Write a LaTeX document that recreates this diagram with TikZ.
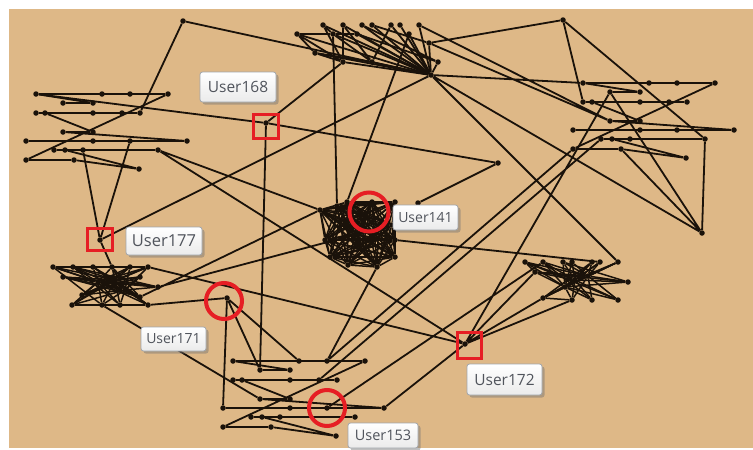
\documentclass[tikz,border=0pt]{standalone}
\usepackage{fontspec}
\setmainfont{Open Sans}
\usetikzlibrary{shadows}
\definecolor{paper}{RGB}{222,184,135}
\definecolor{ink}{RGB}{26,18,10}
\definecolor{mark}{RGB}{230,30,36}
\definecolor{tagtext}{RGB}{80,84,92}
\definecolor{tagedge}{RGB}{160,165,172}

\tikzset{
  dot/.style={circle, fill=ink, inner sep=0pt, minimum size=5.5pt},
  link/.style={draw=ink, line width=1.8pt},
  thin link/.style={draw=ink, line width=1.5pt},
  redbox/.style={draw=mark, line width=3pt, inner sep=0pt},
  redring/.style={draw=mark, line width=4pt, circle, inner sep=0pt},
  tag/.style={draw=tagedge, line width=0.8pt, rounded corners=2.5pt,
    top color=white, bottom color=black!8, text=tagtext, inner sep=0pt,
    drop shadow={shadow xshift=2.5pt, shadow yshift=-2.5pt, opacity=0.45, fill=black!55}},
  % a ladder of user rows joined by long horizontal threads
  ladder/.pic={
    \foreach \n/\x/\y in {a1/36/94, a2/102/94, a3/130/94, a4/168/94,
        b1/63/103, b2/93/103,
        c1/36/113, c2/45/113, c3/93/113, c4/122/113, c5/140/113,
        d1/63/132, d2/93/132,
        e1/26/141, e2/93/141, e3/130/141, e4/187/141,
        f1/54/150, f2/65/150, f3/83/150, f4/158/150,
        g1/26/160, g2/74/160, h/139/169}
      \node[dot] (-\n) at (\x,\y) {};
    \draw[link] (-a1) -- (-a4) (-b1) -- (-b2) (-c1) -- (-c5) (-d1) -- (-d2)
      (-e1) -- (-e4) (-f1) -- (-f4) (-g1) -- (-g2)
      (-a1) -- (-b2) (-c2) -- (-d2) (-d1) -- (-e4) (-f2) -- (-h) (-g2) -- (-h)
      (-g1) -- (-a4);
  }
}

\begin{document}
\begin{tikzpicture}[x=1pt, y=-1pt]
\useasboundingbox (0,0) rectangle (753,450);
\fill[white] (0,0) rectangle (753,450);
\fill[paper] (9,9) rectangle (753,448);

% three ladders
\pic (L) at (0,0) {ladder};
\pic (R) at (547,-11) {ladder};
\pic (D) at (197,267) {ladder};

% loose users
\node[dot] (A) at (183,21) {};
\node[dot] (B) at (563,20) {};
\node[dot] (H) at (431,75) {};
\node[dot] (N702) at (702,233) {};
\node[dot] (N498) at (498,163) {};
\node[dot] (N418) at (418,203) {};
\node[dot] (U168) at (266,123) {};
\node[dot] (U177) at (100,240) {};
\node[dot] (U172) at (465,344) {};
\node[dot] (U171) at (227,298) {};

% top fan around the hub
\foreach \n/\x/\y in {1/323/25, 2/343/25, 3/362/25, 4/372/25, 5/391/25, 6/400/25,
    7/419/25, 8/297/34, 9/333/34, 10/357/34, 11/409/34, 12/429/43, 13/315/53,
    14/343/62, 15/372/62, 16/438/62}
  \node[dot] (t\n) at (\x,\y) {};
\foreach \n in {1,...,16} \draw[link] (t\n) -- (H);
\draw[link] (t8) -- (t9) (t9) -- (t10) (t8) -- (t13) (t13) -- (t14) (t1) -- (t14)
  (t2) -- (t15) (t8) -- (t14) (t9) -- (t15) (t10) -- (t16) (t13) -- (t15)
  (t3) -- (t16) (t4) -- (t12) (t1) -- (t9) (t2) -- (t14) (t5) -- (t15);

% central dense group
\foreach \n/\x/\y in {1/320/210, 2/337/206, 3/347/202, 4/372/202, 5/395/202,
    6/366/214, 7/340/222, 8/392/225, 9/355/235, 10/378/238, 11/325/240,
    12/395/240, 13/330/257, 14/348/265, 15/377/267, 16/395/257, 17/362/250}
  \node[dot] (C\n) at (\x,\y) {};
\foreach \i in {1,...,16} {
  \pgfmathtruncatemacro{\s}{\i+1}
  \foreach \j in {\s,...,17} \draw[thin link] (C\i) -- (C\j);
}

% left lower group
\foreach \n/\x/\y in {1/53/267, 2/73/267, 3/93/267, 4/112/267, 5/130/267,
    6/148/267, 7/63/277, 8/140/277, 9/158/287, 10/82/295, 11/140/297,
    12/72/305, 13/102/305, 14/120/305, 15/148/305, 16/98/282, 17/115/280,
    18/125/290}
  \node[dot] (K\n) at (\x,\y) {};
\draw[link] (K1) -- (K6) (K12) -- (K15);
\foreach \h in {16,17,18}
  \foreach \j in {1,...,15} \draw[thin link] (K\h) -- (K\j);
\draw[thin link] (K7) -- (K11) (K8) -- (K10) (K1) -- (K13)
  (K2) -- (K14) (K3) -- (K15) (K7) -- (K9) (K5) -- (K12) (K6) -- (K10)
  (K16) -- (K17) (K17) -- (K18) (K4) -- (K11) (K9) -- (K2);

% right lower group
\foreach \n/\x/\y in {1/525/262, 2/543/262, 3/563/262, 4/572/262, 5/592/262,
    6/600/262, 7/618/262, 8/535/272, 9/628/282, 10/543/298, 11/572/300,
    12/592/300, 13/618/300, 14/575/280, 15/588/276, 16/565/287}
  \node[dot] (Q\n) at (\x,\y) {};
\foreach \h in {14,15,16}
  \foreach \j in {1,...,13} \draw[thin link] (Q\h) -- (Q\j);
\draw[thin link] (Q1) -- (Q8) (Q10) -- (Q11) (Q1) -- (Q13)
  (Q7) -- (Q10) (Q2) -- (Q12) (Q5) -- (Q10) (Q9) -- (Q3) (Q8) -- (Q9)
  (Q14) -- (Q15) (Q15) -- (Q16);

% long ties between groups
\draw[link] (A) -- (H) (A) -- (L-c5)
  (B) -- (t12) (B) -- (R-c1) (B) -- (R-f4)
  (R-f4) -- (N702) (R-g2) -- (N702) (R-b1) -- (N702) (H) -- (N702)
  (H) -- (R-a1) (t12) -- (R-d1) (t7) -- (R-d1)
  (R-b1) -- (U172) (R-g1) -- (D-a3) (R-f1) -- (D-c4)
  (H) -- (U177) (H) -- (Q7)
  (t9) -- (C2) (t11) -- (C3)
  (U168) -- (t14) (U168) -- (L-a1) (U168) -- (N498) (U168) -- (D-b1)
  (N498) -- (N418)
  (L-e3) -- (U177) (L-f3) -- (U177) (U177) -- (K4)
  (L-f4) -- (U172) (L-f4) -- (C1)
  (K6) -- (U172) (K9) -- (C8) (K15) -- (U171) (K13) -- (D-d1) (C1) -- (K11)
  (U171) -- (D-e1) (U171) -- (D-b1) (U171) -- (D-a2)
  (C15) -- (D-a3) (C12) -- (Q6)
  (Q8) -- (U172) (Q10) -- (U172) (Q11) -- (U172) (Q2) -- (D-e3)
  (D-e4) -- (U172);

% highlighted users
\node[redbox, minimum width=25pt, minimum height=24pt] (m168) at (266,126.5) {};
\node[redbox, minimum width=25pt, minimum height=22pt] (m177) at (100,239.5) {};
\node[redbox, minimum width=24pt, minimum height=26pt] (m172) at (469.5,345.5) {};
\node[redring, minimum size=39pt] (m141) at (369,212) {};
\node[redring, minimum size=36pt] (m171) at (224,301) {};
\node[redring, minimum size=36pt] (m153) at (327,408) {};

% user tags
\node[tag, minimum width=76pt, minimum height=30pt, font=\fontsize{15.5}{18}\selectfont] (tag168) at (238,87) {User168};
\node[tag, minimum width=76pt, minimum height=28pt, font=\fontsize{16.5}{18}\selectfont] (tag177) at (164,241) {User177};
\node[tag, minimum width=65pt, minimum height=25pt, font=\fontsize{14}{16}\selectfont] (tag141) at (425.5,217.5) {User141};
\node[tag, minimum width=65pt, minimum height=24pt, font=\fontsize{14}{16}\selectfont] (tag171) at (173.5,339) {User171};
\node[tag, minimum width=75pt, minimum height=31pt, font=\fontsize{15.5}{18}\selectfont] (tag172) at (504.5,379.5) {User172};
\node[tag, minimum width=70pt, minimum height=25pt, font=\fontsize{14.5}{16}\selectfont] (tag153) at (383,435.5) {User153};
\end{tikzpicture}
\end{document}
